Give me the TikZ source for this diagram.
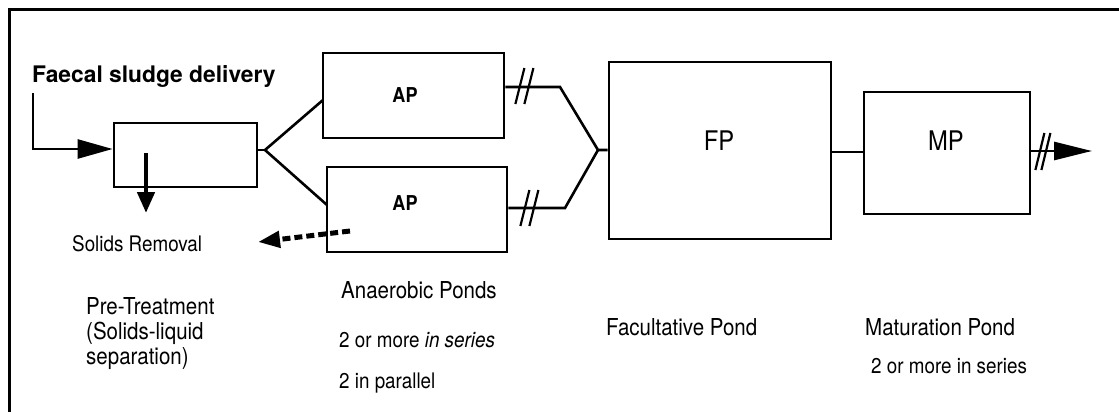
\documentclass[tikz,border=0pt]{standalone}
\usepackage{fontspec}
\setmainfont{TeX Gyre Heros}
\newfontfamily\hvs{TeX Gyre Heros}[FakeStretch=0.88]
\usetikzlibrary{arrows.meta,calc}
\begin{document}
\begin{tikzpicture}[x=1pt,y=-1pt,
  pond/.style={draw,line width=2.8pt,inner sep=0pt},
  conn/.style={line width=2.6pt},
  txt/.style={anchor=base west,inner sep=0pt},
  lab/.style={txt,font=\hvs\fontsize{23.3}{25}\selectfont},
  sml/.style={txt,font=\hvs\fontsize{21.4}{24}\selectfont},
  intxt/.style={inner sep=0pt,font=\hvs\fontsize{27}{29}\selectfont},
  aptxt/.style={inner sep=0pt,font=\hvs\bfseries\fontsize{20.5}{22}\selectfont},
  brk/.style={line width=2.2pt},
  bigtip/.style={-{Triangle[length=35pt,width=19pt]}}
]
\useasboundingbox (0,0) rectangle (1119,412);
\draw[line width=3pt] (9,412) -- (9,9.5) -- (1119,9.5);

% boxes
\node[pond,minimum width=143pt,minimum height=64pt] (pre) at (185.5,155) {};
\node[pond,minimum width=181pt,minimum height=85pt] (apt) at (413.5,95.5) {};
\node[pond,minimum width=180pt,minimum height=85pt] (apb) at (417,209.5) {};
\node[pond,minimum width=222pt,minimum height=177pt] (fp) at (720,150.5) {};
\node[pond,minimum width=166pt,minimum height=122pt] (mp) at (947,153) {};

% texts in boxes
\node[aptxt] (apta) at (405,95) {AP};
\node[aptxt] (apba) at (405,203) {AP};
\node[intxt] (fpa) at (719,141) {FP};
\node[intxt] (mpa) at (946,141) {MP};

% outside texts
\node[txt,font=\bfseries\fontsize{22.8}{24}\selectfont] (fsd) at (32,82) {Faecal sludge delivery};
\node[sml] (sr) at (72,251) {Solids Removal};
\node[lab] (pt1) at (86,314.5) {Pre-Treatment};
\node[lab] (pt2) at (86,339.5) {(Solids-liquid};
\node[lab] (pt3) at (86,364.5) {separation)};
\node[lab] (anp) at (341,298) {Anaerobic Ponds};
\node[sml] (ap2) at (339,347) {2 or more \textit{in series}};
\node[sml] (ap3) at (339,388) {2 in parallel};
\node[lab] (fpl) at (606,335) {Facultative Pond};
\node[lab] (mpl) at (865,335) {Maturation Pond};
\node[sml] (mp2) at (871,373) {2 or more in series};

% input
\coordinate (in0) at (33,93);
\coordinate (in1) at (33,149);
\draw[conn,bigtip] (in0) -- (in1) -- (pre.west |- in1);

% solids removal arrow
\coordinate (s0) at (146,153);
\coordinate (s1) at (146,213);
\draw[line width=4.5pt,-{Triangle[length=21pt,width=17pt]}] (s0) -- (s1);

% fork to anaerobic ponds
\coordinate (f1) at (265,150);
\coordinate (a1) at (323,100);
\coordinate (b1) at (327,205);
\draw[conn] (pre.east |- f1) -- (f1);
\draw[conn] (a1) -- (f1) -- (b1);

% anaerobic ponds to facultative pond
\coordinate (t1) at (560,87);
\coordinate (u1) at (565,208);
\coordinate (f2) at (598,150);
\draw[conn] (apt.east |- t1) -- (t1) -- (f2) -- (fp.west |- f2);
\draw[conn] (apb.east |- u1) -- (u1) -- (f2);
\draw[brk] ($(apt.east |- t1)+(10,17)$) -- ++(9,-36);
\draw[brk] ($(apt.east |- t1)+(19,17)$) -- ++(9,-36);
\draw[brk] ($(apb.east |- u1)+(12,18)$) -- ++(9,-36);
\draw[brk] ($(apb.east |- u1)+(21,18)$) -- ++(9,-36);

% sludge dashed arrow
\coordinate (d0) at (350,231);
\coordinate (d1) at (258,242);
\draw[line width=5pt,dash pattern=on 8pt off 4pt,-{Triangle[length=22pt,width=16pt]}] (d0) -- (d1);

% FP to MP
\draw[conn] (fp.east |- 0,152) -- (mp.west |- 0,152);

% output
\coordinate (o1) at (1092,151);
\draw[conn,-{Triangle[length=38pt,width=18pt]}] (mp.east |- o1) -- (o1);
\draw[brk] ($(mp.east |- o1)+(4,19)$) -- ++(9,-37);
\draw[brk] ($(mp.east |- o1)+(10,19)$) -- ++(9,-37);
\end{tikzpicture}
\end{document}
